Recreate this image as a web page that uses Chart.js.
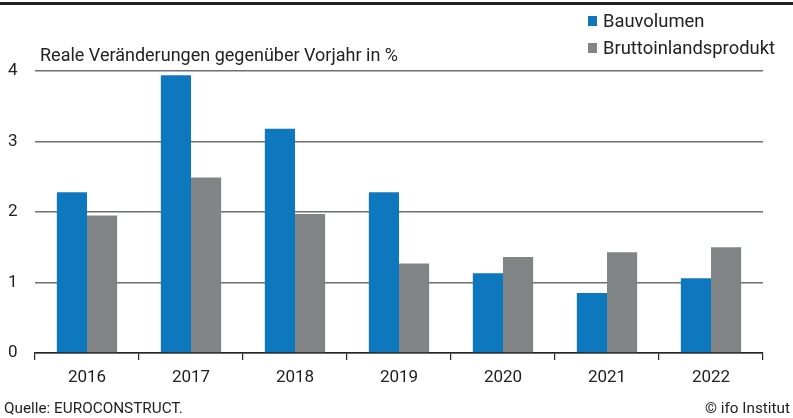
<!DOCTYPE html>
<html>
<head>
<meta charset="utf-8">
<script src="https://cdn.jsdelivr.net/npm/chart.js@4/dist/chart.umd.min.js"></script>
<style>
body { margin: 0; background: #fff; font-family: Roboto, sans-serif; color: #222; }
#wrap { position: relative; width: 793px; height: 418px; overflow: hidden; }
#topline { position: absolute; left: 0; top: 2px; width: 793px; height: 3px; background: #222; }
#ytitle { position: absolute; left: 40px; top: 44px; font-size: 18px; line-height: 21px; white-space: nowrap; }
#legend { position: absolute; left: 588px; top: 7px; font-size: 18.4px; }
.item { display: flex; align-items: center; height: 27px; white-space: nowrap; }
.box { width: 9px; height: 10px; margin-right: 6px; }
#source { position: absolute; left: 4px; top: 399px; font-size: 15.3px; white-space: nowrap; }
#copy { position: absolute; right: 3px; top: 399px; font-size: 15.3px; white-space: nowrap; }
canvas { position: absolute; left: 0; top: 0; }
</style>
</head>
<body>
<div id="wrap">
  <canvas id="chart" width="793" height="418"></canvas>
  <div id="topline"></div>
  <div id="ytitle">Reale Veränderungen gegenüber Vorjahr in %</div>
  <div id="legend"></div>
  <div id="source">Quelle: EUROCONSTRUCT.</div>
  <div id="copy">© ifo Institut</div>
</div>
<script>
// Data
const years = ['2016', '2017', '2018', '2019', '2020', '2021', '2022'];
const bauvolumen = [2.28, 3.94, 3.18, 2.28, 1.13, 0.85, 1.06];
const bip = [1.95, 2.49, 1.97, 1.27, 1.36, 1.43, 1.50];
const seriesNames = ['Bauvolumen', 'Bruttoinlandsprodukt'];
const seriesColors = ['#0e78be', '#828586'];

// HTML legend built from the series
const legend = document.getElementById('legend');
seriesNames.forEach((name, i) => {
    const item = document.createElement('div');
    item.className = 'item';
    item.innerHTML = '<span class="box" style="background:' + seriesColors[i] + '"></span><span>' + name + '</span>';
    legend.appendChild(item);
});

const ctx = document.getElementById('chart').getContext('2d');
new Chart(ctx, {
    type: 'bar',
    data: {
        labels: years,
        datasets: [{
            label: seriesNames[0],
            data: bauvolumen,
            backgroundColor: seriesColors[0],
            categoryPercentage: 0.58,
            barPercentage: 1.0
        }, {
            label: seriesNames[1],
            data: bip,
            backgroundColor: seriesColors[1],
            categoryPercentage: 0.58,
            barPercentage: 1.0
        }]
    },
    options: {
        responsive: false,
        animation: false,
        layout: { padding: { top: 71, left: 8, right: 30, bottom: 0 } },
        plugins: {
            legend: { display: false },
            tooltip: { enabled: false }
        },
        scales: {
            x: {
                grid: {
                    offset: true,
                    drawOnChartArea: false,
                    drawTicks: true,
                    tickLength: 7,
                    color: '#222',
                    lineWidth: 1.2
                },
                border: { color: '#222', width: 1.5 },
                ticks: {
                    color: '#222',
                    font: { family: 'Roboto', size: 17 },
                    padding: 8
                },
                afterFit: function(scale) { scale.height = 65; }
            },
            y: {
                min: 0,
                max: 4,
                grid: { color: '#6f6f6f', lineWidth: 1.5, drawTicks: false },
                border: { display: false },
                ticks: {
                    stepSize: 1,
                    color: '#222',
                    crossAlign: 'far',
                    padding: 0,
                    font: { family: 'Roboto', size: 17 }
                },
                afterFit: function(scale) { scale.width = 27; }
            }
        }
    }
});
</script>
</body>
</html>
